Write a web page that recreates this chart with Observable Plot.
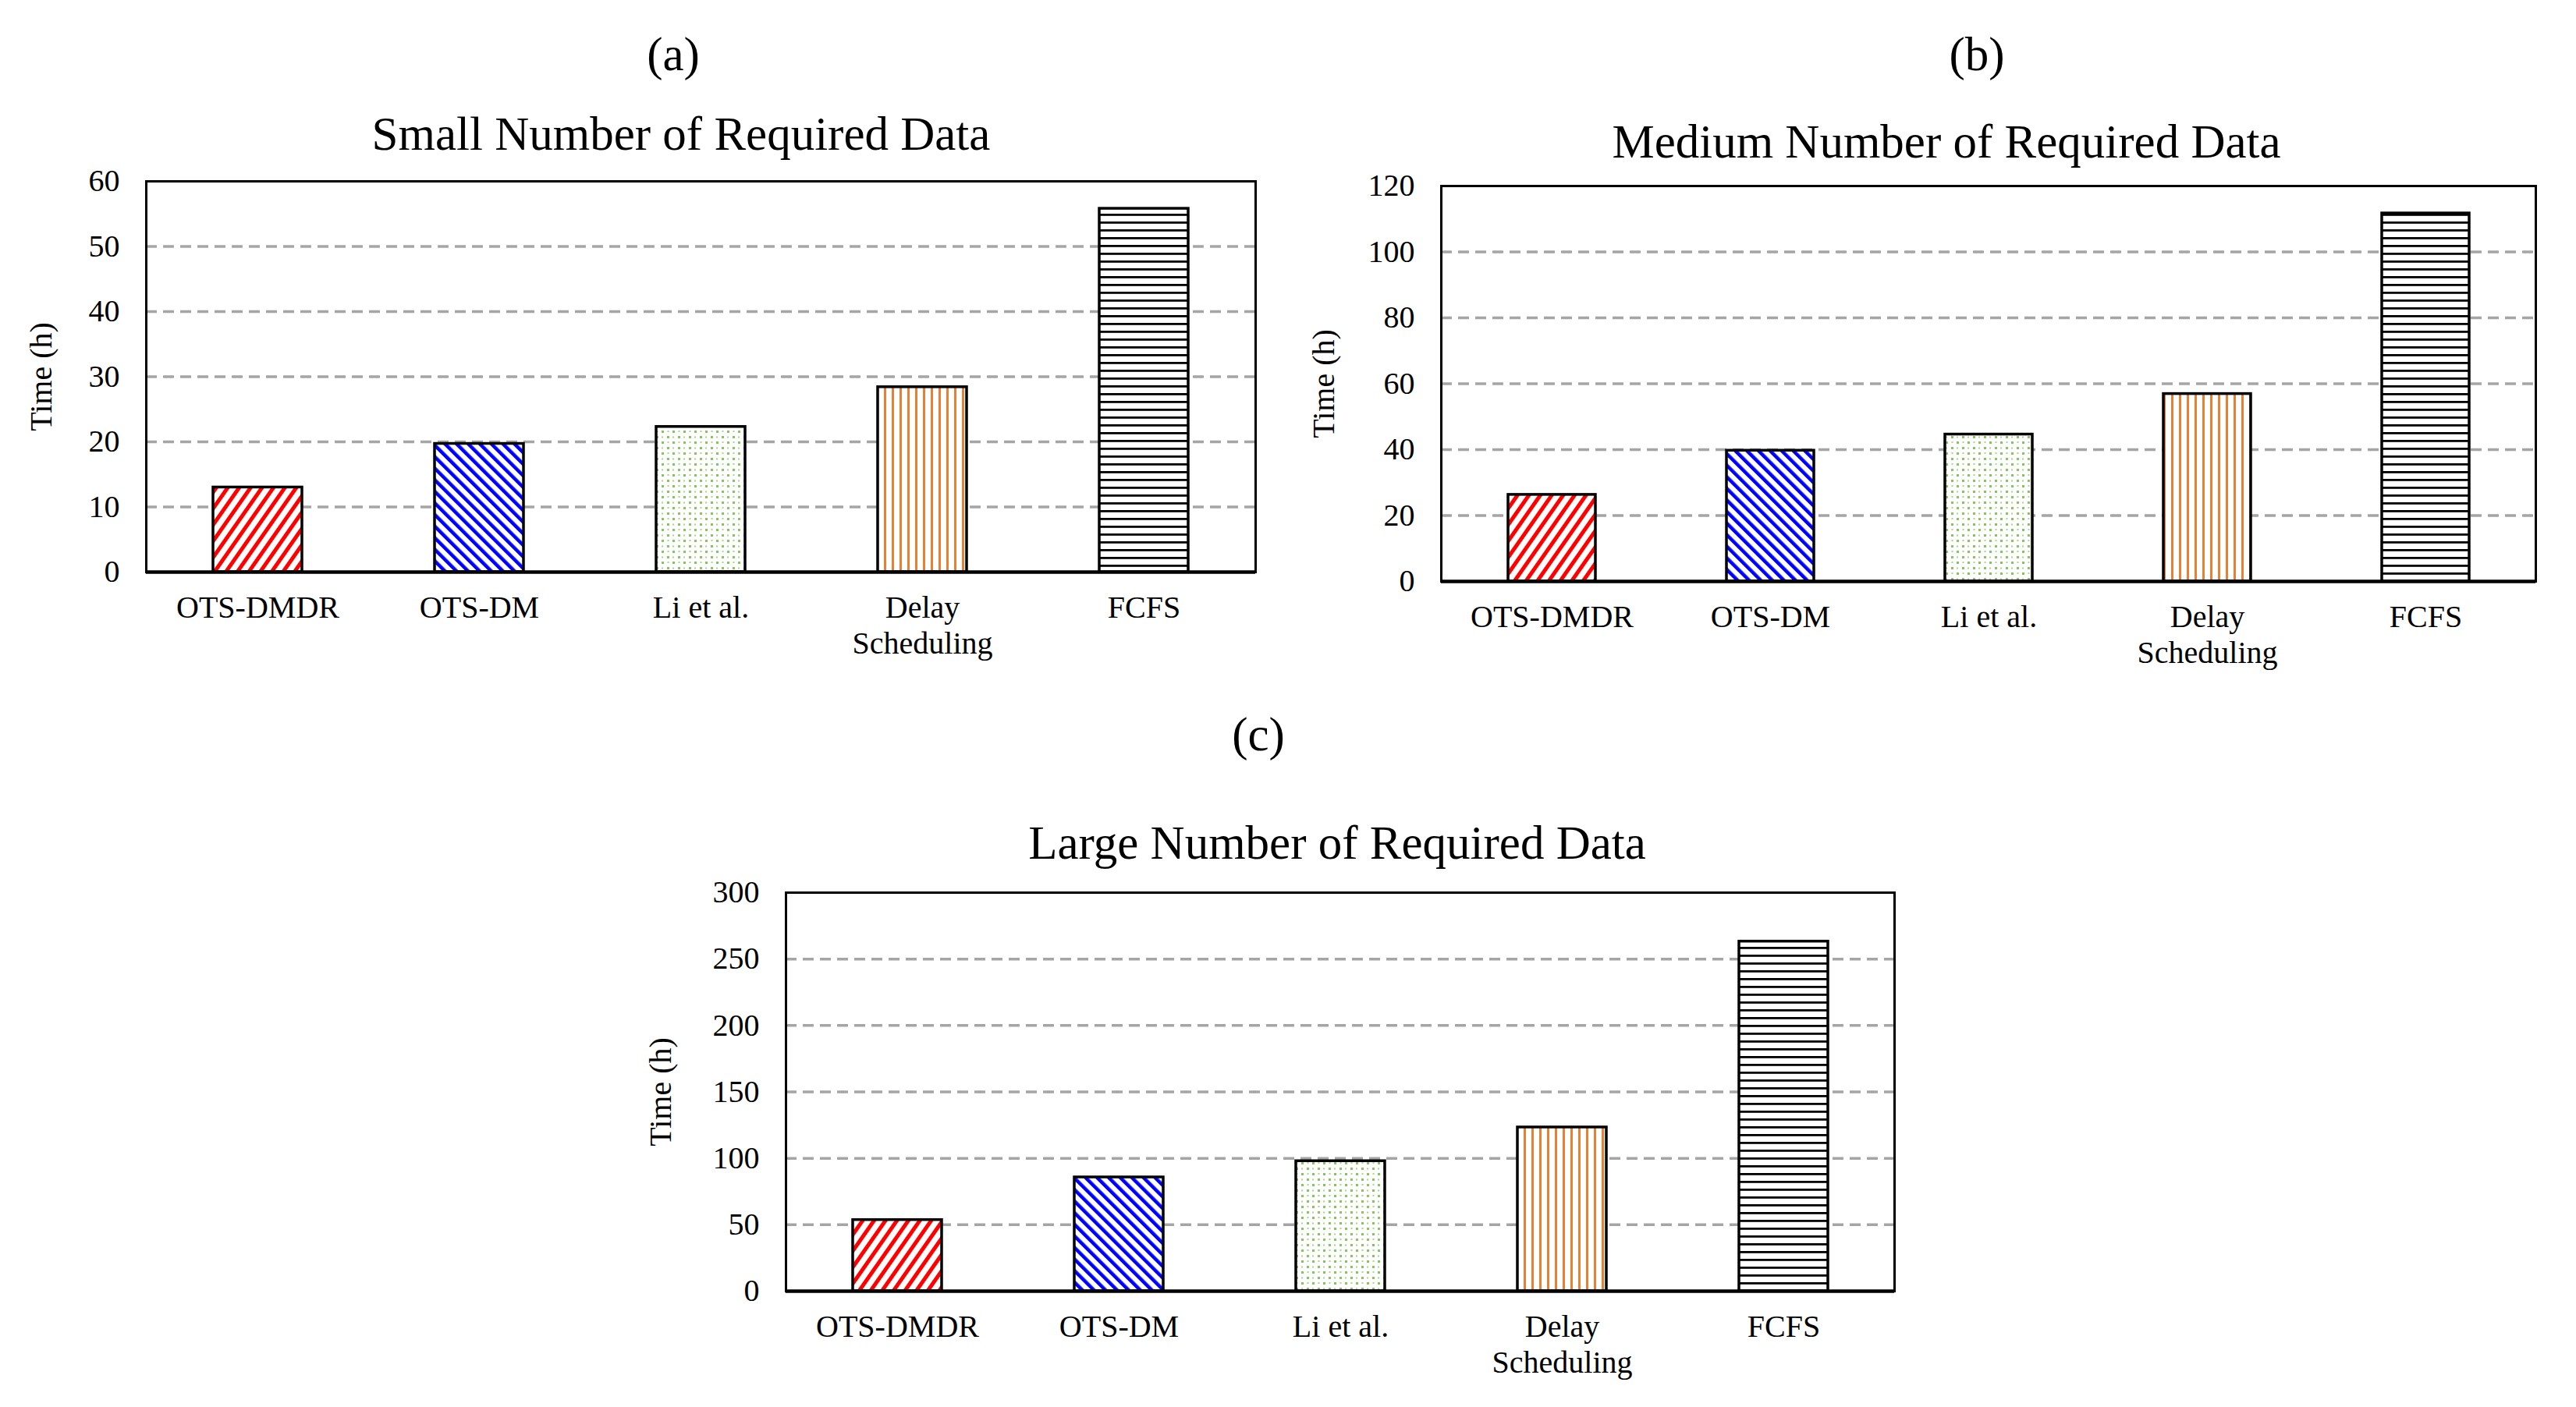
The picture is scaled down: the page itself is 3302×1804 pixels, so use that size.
<!DOCTYPE html>
<html><head><meta charset="utf-8">
<script src="https://cdn.jsdelivr.net/npm/d3@7"></script>
<script src="https://cdn.jsdelivr.net/npm/@observablehq/plot@0.6"></script>
<style>
html,body{margin:0;padding:0;background:#fff;}
#root{position:relative;width:3302px;height:1804px;background:#fff;font-family:"Liberation Serif","Times New Roman",serif;overflow:hidden;}
.lbl{position:absolute;transform:translate(-50%,-50%);white-space:nowrap;color:#000;font-size:61px;line-height:1;}
.panel{position:absolute;}
.panel text{font-family:"Liberation Serif","Times New Roman",serif;}
</style></head><body>
<div id="root">
<svg width="0" height="0" style="position:absolute;left:0;top:0">
<defs>
  <pattern id="pRed" patternUnits="userSpaceOnUse" width="12" height="12" patternTransform="rotate(35)">
    <rect width="12" height="12" fill="#fff"/>
    <rect x="0" y="0" width="5" height="12" fill="#ff0000"/>
  </pattern>
  <pattern id="pBlue" patternUnits="userSpaceOnUse" width="10.5" height="10.5" patternTransform="rotate(-45)">
    <rect width="10.5" height="10.5" fill="#fff"/>
    <rect x="0" y="0" width="4.5" height="10.5" fill="#0000ff"/>
  </pattern>
  <pattern id="pGreen" patternUnits="userSpaceOnUse" width="14" height="14">
    <rect width="14" height="14" fill="#fff"/>
    <rect x="1" y="1" width="3" height="3" fill="#86c45e"/>
    <rect x="8" y="8" width="3" height="3" fill="#86c45e"/>
    <rect x="8" y="1.5" width="2" height="2" fill="#a9d68c"/>
    <rect x="1.5" y="8" width="2" height="2" fill="#a9d68c"/>
  </pattern>
  <pattern id="pOrange" patternUnits="userSpaceOnUse" width="10" height="10">
    <rect width="10" height="10" fill="#fff"/>
    <rect x="3" y="0" width="3" height="10" fill="#ed7d31"/>
  </pattern>
  <pattern id="pBlack" patternUnits="userSpaceOnUse" width="10" height="10">
    <rect width="10" height="10" fill="#fff"/>
    <rect x="0" y="4" width="10" height="2.8" fill="#000"/>
  </pattern>
</defs></svg>
</div>
<script>
const categories = ["OTS-DMDR", "OTS-DM", "Li et al.", "Delay Scheduling", "FCFS"];
const tickLabels = ["OTS-DMDR", "OTS-DM", "Li et al.", "Delay\nScheduling", "FCFS"];
const smallValues = [13.0, 19.7, 22.3, 28.4, 55.8];
const mediumValues = [26.3, 39.7, 44.6, 56.9, 111.7];
const largeValues = [53.6, 85.7, 97.9, 123.3, 263.2];
const smallTicks = [0, 10, 20, 30, 40, 50, 60];
const mediumTicks = [0, 20, 40, 60, 80, 100, 120];
const largeTicks = [0, 50, 100, 150, 200, 250, 300];
const panelLetters = ["(a)", "(b)", "(c)"];
const panelTitles = ["Small Number of Required Data", "Medium Number of Required Data", "Large Number of Required Data"];
const yLabel = "Time (h)";
const fills = ["url(#pRed)", "url(#pBlue)", "url(#pGreen)", "url(#pOrange)", "url(#pBlack)"];
const serif = '"Liberation Serif","Times New Roman",serif';

const root = document.getElementById("root");

function label(text, x, y, size) {
  const d = document.createElement("div");
  d.className = "lbl";
  d.textContent = text;
  d.style.left = x + "px";
  d.style.top = y + "px";
  if (size) d.style.fontSize = size + "px";
  root.appendChild(d);
}

function panel(values, ticks, o) {
  const data = categories.map((c, i) => ({cat: c, value: values[i], fill: fills[i]}));
  const max = ticks[ticks.length - 1];
  const chart = Plot.plot({
    width: o.width, height: o.height,
    marginLeft: o.ml, marginRight: o.mr, marginTop: o.mt, marginBottom: o.mb,
    style: {fontFamily: serif, fontSize: "40px", background: "white", color: "black", overflow: "visible"},
    x: {domain: categories, paddingInner: 0.6, paddingOuter: 0.3, label: null},
    y: {domain: [0, max], label: null},
    color: {type: "identity"},
    marks: [
      Plot.ruleY(ticks.filter(t => t > 0 && t < max), {stroke: "#a5a5a5", strokeWidth: 3.5, strokeDasharray: "14,8"}),
      Plot.barY(data, {x: "cat", y: "value", fill: "fill", stroke: "black", strokeWidth: 3.5}),
      Plot.ruleY([0], {stroke: "black", strokeWidth: 4.5}),
      Plot.frame({stroke: "black", strokeWidth: 3}),
      Plot.axisY(ticks, {tickSize: 0, tickPadding: 34, label: null, fontFamily: serif}),
      Plot.axisX({tickSize: 0, tickPadding: 26, label: null, lineHeight: 1.15, fontFamily: serif,
        tickFormat: c => tickLabels[categories.indexOf(c)]}),
      Plot.text([yLabel], {text: d => d, frameAnchor: "left", dx: -o.ylx, rotate: -90, textAnchor: "middle", fontFamily: serif})
    ]
  });
  chart.classList.add("panel");
  chart.style.left = o.left + "px";
  chart.style.top = o.top + "px";
  chart.style.position = "absolute";
  root.appendChild(chart);
}

panel(smallValues, smallTicks, {left: 0, top: 180, width: 1640, height: 673, ml: 187, mr: 31, mt: 52, mb: 120, ylx: 134});
panel(mediumValues, mediumTicks, {left: 1660, top: 180, width: 1642, height: 685, ml: 187, mr: 52, mt: 58, mb: 120, ylx: 150});
panel(largeValues, largeTicks, {left: 820, top: 1090, width: 1660, height: 705, ml: 187, mr: 52, mt: 54, mb: 140, ylx: 160});

label(panelLetters[0], 863, 69);
label(panelTitles[0], 873, 171);
label(panelLetters[1], 2534, 69);
label(panelTitles[1], 2495, 181);
label(panelLetters[2], 1613, 941);
label(panelTitles[2], 1714, 1080);
</script>
</body></html>
